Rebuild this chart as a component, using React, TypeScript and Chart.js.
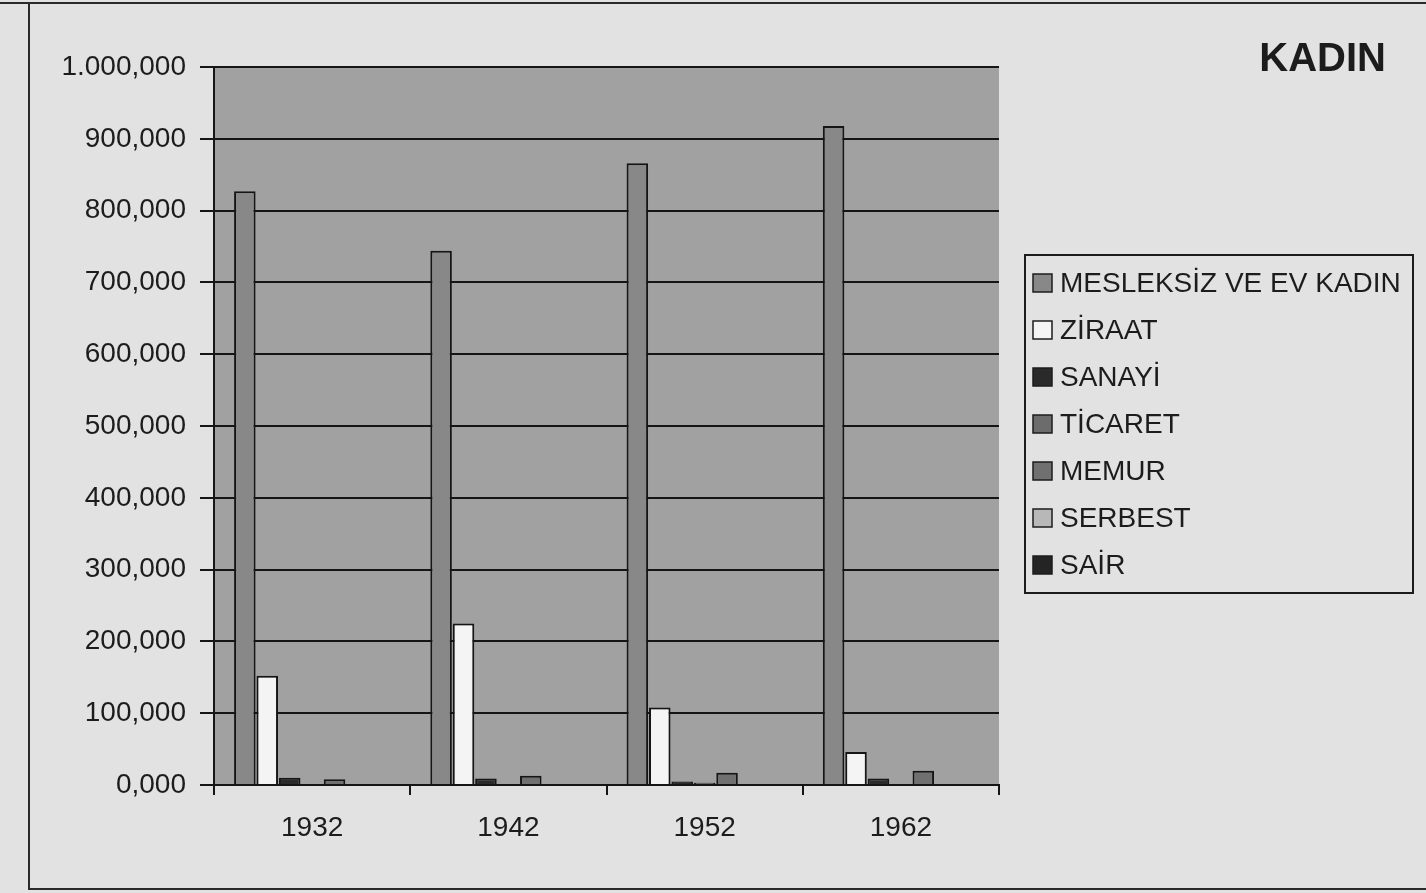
import React, { useEffect, useRef } from "react";
import { Chart, registerables } from "chart.js";

Chart.register(...registerables);

// ---- data ----
const years = ["1932", "1942", "1952", "1962"];
const seriesNames = ["MESLEKSİZ VE EV KADIN", "ZİRAAT", "SANAYİ", "TİCARET", "MEMUR", "SERBEST", "SAİR"];
const mesleksiz = [827000, 744000, 866000, 918000];
const ziraat = [152000, 225000, 108000, 46000];
const sanayi = [10000, 9000, 5000, 9000];
const ticaret = [0, 0, 3000, 0];
const memur = [8000, 13000, 17000, 20000];
const serbest = [0, 0, 0, 0];
const sair = [0, 0, 0, 0];
const yTickLabels = ["0,000", "100,000", "200,000", "300,000", "400,000", "500,000", "600,000", "700,000", "800,000", "900,000", "1.000,000"];
const chartTitle = "KADIN";

const seriesValues = [mesleksiz, ziraat, sanayi, ticaret, memur, serbest, sair];
const seriesColors = ["#888888", "#f4f4f4", "#2a2a2a", "#6c6c6c", "#707070", "#b8b8b8", "#242424"];

const FONT = "'Liberation Sans', Arial, sans-serif";
const INK = "#1c1c1c";

const decorPlugin = {
  id: "decor",
  beforeDraw(chart: any) {
    const { ctx, chartArea: ca, width, height } = chart;
    ctx.save();
    ctx.fillStyle = "#e2e2e2";
    ctx.fillRect(0, 0, width, height);
    ctx.fillStyle = "#a1a1a1";
    ctx.fillRect(ca.left, ca.top, ca.right - ca.left, ca.bottom - ca.top);
    ctx.strokeStyle = "#2a2a2a";
    ctx.lineWidth = 2;
    ctx.beginPath();
    ctx.moveTo(0, 3);
    ctx.lineTo(width, 3);
    ctx.moveTo(29, 3);
    ctx.lineTo(29, 889);
    ctx.lineTo(width, 889);
    ctx.stroke();
    ctx.restore();
  },
  afterDraw(chart: any) {
    const { ctx } = chart;
    ctx.save();
    // title
    ctx.fillStyle = INK;
    ctx.font = `bold 40px ${FONT}`;
    ctx.textAlign = "right";
    ctx.textBaseline = "alphabetic";
    ctx.fillText(chartTitle, 1386, 71);
    // legend
    const lx = 1025, ly = 255, lw = 388, lh = 338;
    ctx.strokeStyle = "#1c1c1c";
    ctx.lineWidth = 2;
    ctx.strokeRect(lx, ly, lw, lh);
    ctx.font = `28px ${FONT}`;
    ctx.textAlign = "left";
    ctx.textBaseline = "middle";
    chart.data.datasets.forEach((ds: any, i: number) => {
      const cy = 283 + i * 47;
      ctx.fillStyle = ds.backgroundColor;
      ctx.fillRect(1033, cy - 9, 19, 18);
      ctx.lineWidth = 1.5;
      ctx.strokeStyle = "#1c1c1c";
      ctx.strokeRect(1033, cy - 9, 19, 18);
      ctx.fillStyle = INK;
      ctx.fillText(ds.label, 1060, cy + 1);
    });
    ctx.restore();
  },
};

export default function App() {
  const ref = useRef<HTMLCanvasElement>(null);

  useEffect(() => {
    if (!ref.current) return;
    const chart = new Chart(ref.current, {
      type: "bar",
      data: {
        labels: years,
        datasets: seriesNames.map((name, i) => ({
          label: name,
          data: seriesValues[i],
          backgroundColor: seriesColors[i],
          borderColor: "#151515",
          borderWidth: 2,
          categoryPercentage: 0.8,
          barPercentage: 0.96,
        })),
      },
      options: {
        responsive: false,
        animation: false,
        layout: { padding: { left: 0, right: 427, top: 67, bottom: 0 } },
        plugins: {
          legend: { display: false },
          title: { display: false },
          tooltip: { enabled: false },
        },
        scales: {
          x: {
            afterFit(scale: any) {
              scale.height = 108;
            },
            grid: {
              display: true,
              drawOnChartArea: false,
              drawTicks: true,
              tickLength: 10,
              color: "#151515",
              lineWidth: 2,
              offset: true,
            },
            border: { display: true, color: "#151515", width: 2 },
            ticks: {
              color: INK,
              font: { family: FONT, size: 28 },
              padding: 16,
              maxRotation: 0,
            },
          },
          y: {
            min: 0,
            max: 1000000,
            afterFit(scale: any) {
              scale.width = 214;
            },
            grid: {
              color: "#151515",
              lineWidth: 2,
              drawTicks: true,
              tickLength: 14,
            },
            border: { display: true, color: "#151515", width: 2 },
            ticks: {
              stepSize: 100000,
              color: INK,
              font: { family: FONT, size: 28 },
              padding: 14,
              callback: (v: any) => yTickLabels[Math.round(Number(v) / 100000)] ?? "",
            },
          },
        },
      },
      plugins: [decorPlugin],
    });
    return () => chart.destroy();
  }, []);

  return (
    <div style={{ position: "absolute", left: 0, top: 0, width: 1426, height: 893, background: "#e2e2e2" }}>
      <canvas ref={ref} width={1426} height={893} style={{ display: "block", width: 1426, height: 893 }} />
    </div>
  );
}
